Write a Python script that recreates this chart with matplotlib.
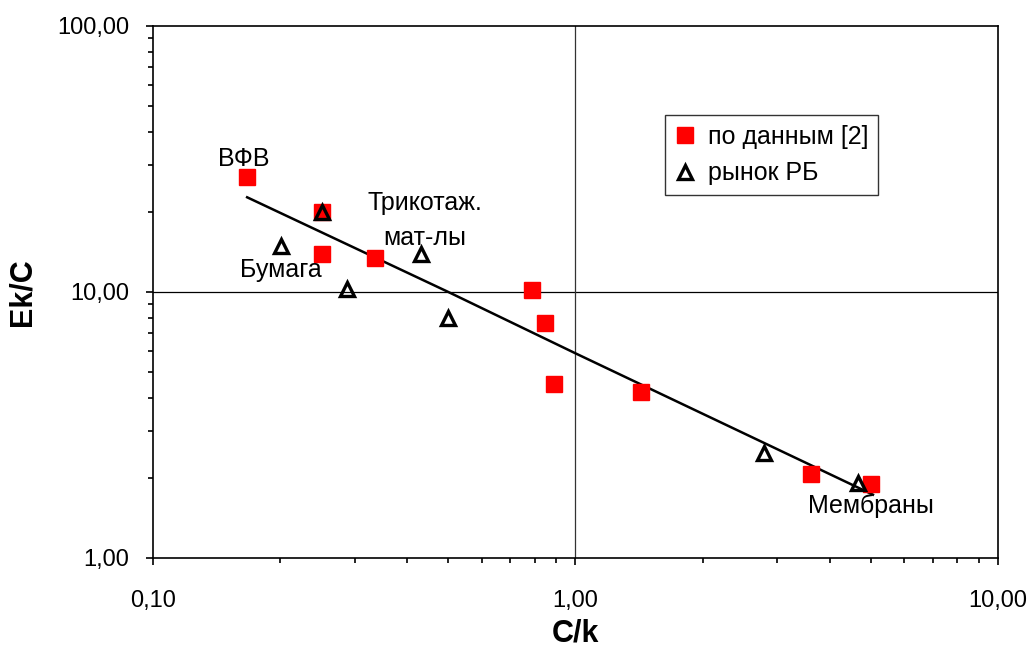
import matplotlib
matplotlib.use('Agg')
import matplotlib.pyplot as plt
from matplotlib.ticker import FixedLocator, FixedFormatter, LogLocator, NullFormatter

plt.rcParams['font.family'] = ['Liberation Sans', 'DejaVu Sans']

# data
lit_x = [0.167, 0.251, 0.251, 0.335, 0.789, 0.847, 0.889, 1.43, 3.61, 5.0]
lit_y = [27.0, 20.0, 13.9, 13.4, 10.2, 7.65, 4.51, 4.21, 2.07, 1.90]

rb_x = [0.201, 0.251, 0.288, 0.431, 0.50, 2.79, 4.67]
rb_y = [14.9, 20.0, 10.3, 13.9, 7.96, 2.49, 1.92]

trend_x = [0.167, 0.5, 1.0, 5.06]
trend_y = [22.7, 10.0, 5.88, 1.73]

labels = ['ВФВ', 'Бумага', 'Трикотаж.\nмат-лы', 'Мембраны']
label_pos = [(0.164, 31.6), (0.201, 12.1), (0.44, 18.6), (5.0, 1.57)]

x_ticks = [0.1, 1, 10]
x_ticklabels = ['0,10', '1,00', '10,00']
y_ticks = [1, 10, 100]
y_ticklabels = ['1,00', '10,00', '100,00']

################## figure
fig = plt.figure(figsize=(10.32, 6.53), dpi=100)
ax = fig.add_axes([0.1483, 0.1455, 0.8187, 0.8147])

ax.set_xscale('log')
ax.set_yscale('log')
ax.set_xlim(0.1, 10)
ax.set_ylim(1, 100)

# grid lines only at 1 and 10
ax.axhline(10, color='black', lw=0.9, zorder=1)
ax.axvline(1, color='#333333', lw=0.9, zorder=1)

ax.plot(trend_x, trend_y, color='black', lw=1.8, zorder=2)
ax.plot(lit_x, lit_y, 's', color='#ff0000', ms=11, mec='#ff0000', ls='none',
        label='по данным [2]', zorder=3)
ax.plot(rb_x, rb_y, '^', color='none', mfc='none', mec='black', mew=2.4, ms=9.5,
        ls='none', label='рынок РБ', zorder=4)

for t, (px, py) in zip(labels, label_pos):
    ax.text(px, py, t, fontsize=18, ha='center', va='center', linespacing=1.6)

ax.xaxis.set_major_locator(FixedLocator(x_ticks))
ax.xaxis.set_major_formatter(FixedFormatter(x_ticklabels))
ax.yaxis.set_major_locator(FixedLocator(y_ticks))
ax.yaxis.set_major_formatter(FixedFormatter(y_ticklabels))
ax.xaxis.set_minor_locator(LogLocator(base=10, subs=range(2, 10)))
ax.yaxis.set_minor_locator(LogLocator(base=10, subs=range(2, 10)))
ax.xaxis.set_minor_formatter(NullFormatter())
ax.yaxis.set_minor_formatter(NullFormatter())

ax.tick_params(which='major', direction='out', length=5, width=1.2, labelsize=17,
               top=False, right=False, pad=12)
ax.tick_params(axis='x', which='major', pad=18)
ax.tick_params(which='minor', direction='out', length=3.5, width=1.2,
               top=False, right=False)
for s in ax.spines.values():
    s.set_linewidth(1.2)

ax.set_xlabel('C/k', fontsize=22, fontweight='bold', labelpad=5)
ax.set_ylabel('Ek/C', fontsize=22, fontweight='bold', labelpad=14)

leg = ax.legend(loc='upper left', bbox_to_anchor=(0.606, 0.833), fontsize=18,
                frameon=True, fancybox=False, handlelength=0.8, handletextpad=0.5,
                borderpad=0.4, labelspacing=0.5, borderaxespad=0)
leg.get_frame().set_edgecolor('black')
leg.get_frame().set_linewidth(1.0)

fig.savefig('out.png', dpi=100)
